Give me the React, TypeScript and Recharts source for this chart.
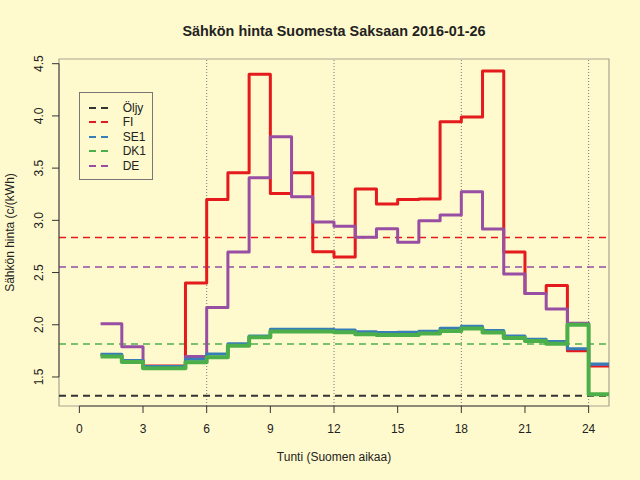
import {
  Label,
  Line,
  LineChart,
  ReferenceArea,
  ReferenceLine,
  XAxis,
  YAxis,
} from "recharts";

// hourly prices, c/kWh, hour h spans [h, h+1]
const hours = [1, 2, 3, 4, 5, 6, 7, 8, 9, 10, 11, 12, 13, 14, 15, 16, 17, 18, 19, 20, 21, 22, 23, 24];
const fi = [1.71, 1.657, 1.606, 1.606, 2.4, 3.2, 3.455, 4.398, 3.256, 3.455, 2.7, 2.649, 3.3, 3.157, 3.199, 3.205, 3.944, 3.99, 4.43, 2.697, 2.3, 2.376, 1.752, 1.606];
const se1 = [1.718, 1.657, 1.6, 1.6, 1.67, 1.72, 1.817, 1.893, 1.957, 1.957, 1.957, 1.951, 1.932, 1.925, 1.928, 1.938, 1.967, 1.986, 1.944, 1.893, 1.862, 1.839, 1.77, 1.625];
const dk1 = [1.695, 1.644, 1.583, 1.583, 1.64, 1.69, 1.8, 1.88, 1.935, 1.935, 1.935, 1.929, 1.91, 1.903, 1.903, 1.916, 1.94, 1.963, 1.925, 1.874, 1.845, 1.817, 2.0, 1.334];
const de = [2.009, 1.79, 1.6, 1.6, 1.695, 2.165, 2.697, 3.407, 3.8, 3.225, 2.985, 2.943, 2.837, 2.92, 2.789, 2.997, 3.052, 3.273, 2.917, 2.486, 2.3, 2.15, 2.015, 1.62];
const oil = 1.32;

const xTicks = [0, 3, 6, 9, 12, 15, 18, 21, 24];
const yTicks = [1.5, 2, 2.5, 3, 3.5, 4, 4.5];
const gridHours = [6, 12, 18, 24];
const xDomain: [number, number] = [-0.96, 24.96];
const yDomain: [number, number] = [1.222, 4.545];

const BG = "#FFFACD";
const FONT = "'Liberation Sans', Arial, Helvetica, sans-serif";

const colors = {
  oil: "#333333",
  fi: "#E41A1C",
  se1: "#377EB8",
  dk1: "#4DAF4A",
  de: "#984EA3",
};

const mean = (a: number[]) => a.reduce((s, v) => s + v, 0) / a.length;

// step lines need one extra point at the end of the last hour
const rows = [...hours, 25].map((h, i) => {
  const j = Math.min(i, hours.length - 1);
  return { hour: h, fi: fi[j], se1: se1[j], dk1: dk1[j], de: de[j] };
});

// drawing order: FI, DE, SE1, DK1 on top
const lines = [
  { key: "fi", color: colors.fi, width: 3 },
  { key: "de", color: colors.de, width: 3 },
  { key: "se1", color: colors.se1, width: 3 },
  { key: "dk1", color: colors.dk1, width: 4 },
];

const legendItems = [
  { name: "Öljy", color: colors.oil },
  { name: "FI", color: colors.fi },
  { name: "SE1", color: colors.se1 },
  { name: "DK1", color: colors.dk1 },
  { name: "DE", color: colors.de },
];

function YTick({ x, y, payload }: any) {
  const tx = x - 6.7;
  return (
    <text
      x={tx}
      y={y}
      transform={`rotate(-90 ${tx} ${y})`}
      textAnchor="middle"
      fontSize={12}
      fill="#222"
    >
      {Number(payload.value).toFixed(1)}
    </text>
  );
}

function YTitle({ viewBox }: any) {
  const cy = viewBox.y + viewBox.height / 2;
  return (
    <text
      x={14}
      y={cy}
      transform={`rotate(-90 14 ${cy})`}
      textAnchor="middle"
      fontSize={12}
      fill="#222"
    >
      Sähkön hinta (c/(kWh)
    </text>
  );
}

function LegendBox() {
  return (
    <div
      style={{
        position: "absolute",
        left: 79,
        top: 92,
        width: 72,
        height: 86,
        border: "1px solid #777",
      }}
    >
      {legendItems.map((it, i) => {
        const cy = 14.5 + i * 14.5;
        return (
          <div key={it.name}>
            <svg
              width={22}
              height={4}
              style={{ position: "absolute", left: 9, top: cy - 2 }}
            >
              <line
                x1={0}
                x2={22}
                y1={2}
                y2={2}
                stroke={it.color}
                strokeWidth={2}
                strokeDasharray="7 5"
              />
            </svg>
            <span
              style={{
                position: "absolute",
                left: 42.7,
                top: cy - 8,
                fontSize: 12,
                lineHeight: "16px",
                color: "#222",
                whiteSpace: "nowrap",
              }}
            >
              {it.name}
            </span>
          </div>
        );
      })}
    </div>
  );
}

export default function App() {
  return (
    <div
      style={{
        position: "relative",
        width: 640,
        height: 480,
        background: BG,
        fontFamily: FONT,
      }}
    >
      <style>{`body{margin:0;background:${BG}}`}</style>
      <LineChart
        width={640}
        height={480}
        data={rows}
        margin={{ top: 59, right: 31, bottom: 0, left: 0 }}
      >
        <XAxis
          dataKey="hour"
          type="number"
          domain={xDomain}
          ticks={xTicks}
          interval={0}
          allowDataOverflow
          axisLine={false}
          tickLine={{ stroke: "#333" }}
          tickSize={7}
          tickMargin={11}
          height={74}
          tick={{ fill: "#222", fontSize: 12 }}
        >
          <Label
            value="Tunti (Suomen aikaa)"
            position="insideBottom"
            offset={19}
            fill="#222"
            fontSize={12}
          />
        </XAxis>
        <YAxis
          type="number"
          domain={yDomain}
          ticks={yTicks}
          interval={0}
          allowDataOverflow
          width={59}
          axisLine={false}
          tickLine={{ stroke: "#333" }}
          tickSize={7}
          tick={<YTick />}
        >
          <Label content={<YTitle />} />
        </YAxis>

        <ReferenceArea
          x1={xDomain[0]}
          x2={xDomain[1]}
          y1={yDomain[0]}
          y2={yDomain[1]}
          fill="none"
          stroke="#a9a48f"
          strokeWidth={1.2}
        />
        {gridHours.map((h) => (
          <ReferenceLine
            key={h}
            x={h}
            stroke="#777"
            strokeDasharray="1 2"
          />
        ))}
        <ReferenceLine y={oil} stroke={colors.oil} strokeWidth={2} strokeDasharray="7 5" />
        <ReferenceLine y={mean(fi)} stroke={colors.fi} strokeWidth={1.6} strokeDasharray="7 5" />
        <ReferenceLine y={mean(de)} stroke={colors.de} strokeWidth={1.6} strokeDasharray="7 5" />
        <ReferenceLine y={mean(dk1)} stroke={colors.dk1} strokeWidth={1.6} strokeDasharray="7 5" />

        {lines.map((l) => (
          <Line
            key={l.key}
            dataKey={l.key}
            type="stepAfter"
            stroke={l.color}
            strokeWidth={l.width}
            strokeLinejoin="round"
            dot={false}
            activeDot={false}
            isAnimationActive={false}
          />
        ))}

        <ReferenceLine
          segment={[
            { x: xDomain[0], y: 1.5 },
            { x: xDomain[0], y: 4.5 },
          ]}
          stroke="#444"
        />
        <ReferenceLine
          segment={[
            { x: 0, y: yDomain[0] },
            { x: 24, y: yDomain[0] },
          ]}
          stroke="#444"
        />
      </LineChart>
      <div
        style={{
          position: "absolute",
          left: 59,
          width: 550,
          top: 21,
          lineHeight: "20px",
          fontSize: 14.4,
          fontWeight: "bold",
          textAlign: "center",
          color: "#222",
        }}
      >
        Sähkön hinta Suomesta Saksaan 2016-01-26
      </div>
      <LegendBox />
    </div>
  );
}
